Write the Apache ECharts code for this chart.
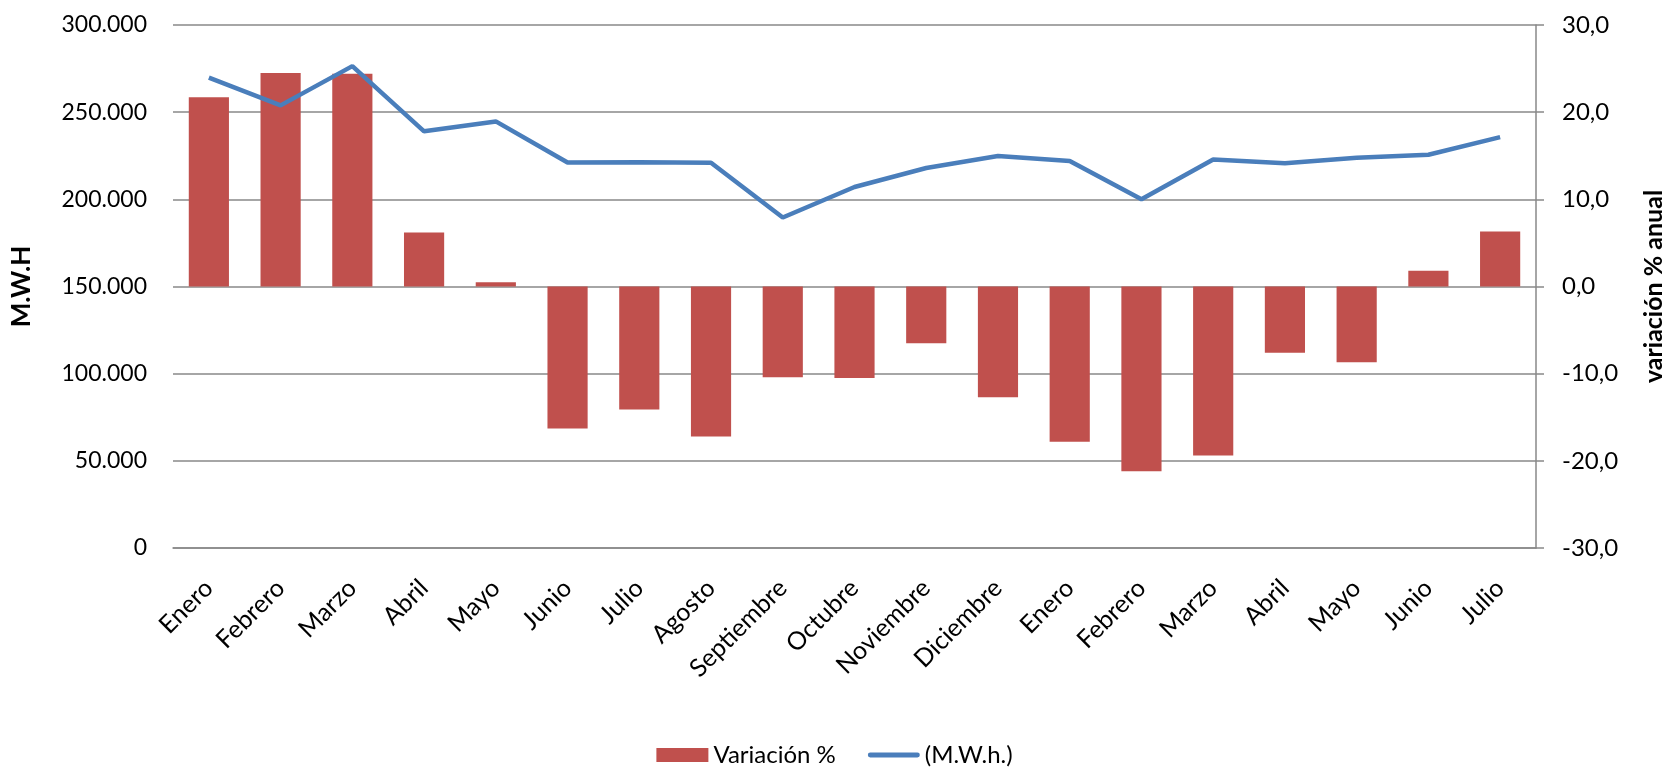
<!DOCTYPE html>
<html>
<head>
<meta charset="utf-8">
<script src="https://cdn.jsdelivr.net/npm/echarts@6/dist/echarts.min.js"></script>
<style>
  html, body { margin: 0; padding: 0; background: #fff; }
  #MyChart { width: 1669px; height: 778px; }
</style>
</head>
<body>
<div id="MyChart"></div>
<script>
// meses (dos años seguidos)
const meses = ['Enero', 'Febrero', 'Marzo', 'Abril', 'Mayo', 'Junio', 'Julio', 'Agosto',
  'Septiembre', 'Octubre', 'Noviembre', 'Diciembre', 'Enero', 'Febrero', 'Marzo',
  'Abril', 'Mayo', 'Junio', 'Julio']
// variación % anual (eje derecho)
const variacion = [21.7, 24.5, 24.4, 6.2, 0.5, -16.3, -14.1, -17.2, -10.4, -10.5,
  -6.5, -12.7, -17.8, -21.2, -19.4, -7.6, -8.7, 1.8, 6.3]
// energía en M.W.h. (eje izquierdo)
const mwh = [269800, 253900, 276400, 239000, 244700, 221100, 221300, 221000, 189600,
  207100, 218000, 224900, 222000, 200100, 222800, 220700, 223900, 225600, 235700]

const fuente = 'Lato, "Liberation Sans", sans-serif'
const gris = '#898989'

let myChart = echarts.init(document.getElementById('MyChart'))
let option = {
  textStyle: { fontFamily: fuente },
  grid: { left: 173, right: 133, top: 25, bottom: 230, outerBoundsMode: 'none' },
  legend: {
    bottom: 6,
    left: 'center',
    itemWidth: 52,
    itemHeight: 14,
    itemGap: 32,
    textStyle: { fontFamily: fuente, fontSize: 24, color: '#000' },
    data: [
      { name: 'Variación %', icon: 'rect' },
      { name: '(M.W.h.)', icon: 'path://M2.5,0 L51.5,0 A2.5,2.5 0 0 1 51.5,5 L2.5,5 A2.5,2.5 0 0 1 2.5,0 Z' }
    ]
  },
  xAxis: {
    type: 'category',
    data: meses,
    axisLine: { show: true, lineStyle: { color: gris, width: 1.5 } },
    axisTick: { show: false },
    axisLabel: {
      rotate: 45,
      margin: 36,
      interval: 0,
      fontFamily: fuente,
      fontSize: 25,
      color: '#000'
    }
  },
  yAxis: [
    {
      type: 'value',
      min: 0,
      max: 300000,
      interval: 50000,
      name: 'M.W.H',
      nameLocation: 'middle',
      nameRotate: 90,
      nameGap: 138,
      nameTextStyle: { fontFamily: fuente, fontSize: 26, fontWeight: 'bold', color: '#000' },
      axisLine: { show: false },
      axisTick: { show: false },
      axisLabel: {
        margin: 26,
        fontFamily: fuente,
        fontSize: 23,
        color: '#000',
        formatter: v => v.toString().replace(/\B(?=(\d{3})+(?!\d))/g, '.')
      },
      splitLine: { lineStyle: { color: gris, width: 1.5 } }
    },
    {
      type: 'value',
      min: -30,
      max: 30,
      interval: 10,
      name: 'variación % anual',
      nameLocation: 'middle',
      nameRotate: 90,
      nameGap: 105,
      nameTextStyle: { fontFamily: fuente, fontSize: 25, fontWeight: 'bold', color: '#000' },
      axisLine: { show: true, lineStyle: { color: gris, width: 1.5 } },
      axisTick: { show: true, length: 8, lineStyle: { color: gris, width: 1.5 } },
      axisLabel: {
        margin: 26,
        fontFamily: fuente,
        fontSize: 24,
        color: '#000',
        formatter: v => v.toFixed(1).replace('.', ',')
      },
      splitLine: { show: false }
    }
  ],
  series: [
    {
      name: 'Variación %',
      type: 'bar',
      yAxisIndex: 1,
      data: variacion,
      barWidth: '56%',
      itemStyle: { color: '#C0504D' }
    },
    {
      name: '(M.W.h.)',
      type: 'line',
      yAxisIndex: 0,
      data: mwh,
      symbol: 'none',
      lineStyle: { color: '#4A7EBB', width: 4.5 },
      itemStyle: { color: '#4A7EBB' }
    }
  ]
}
myChart.setOption(option)
</script>
</body>
</html>
